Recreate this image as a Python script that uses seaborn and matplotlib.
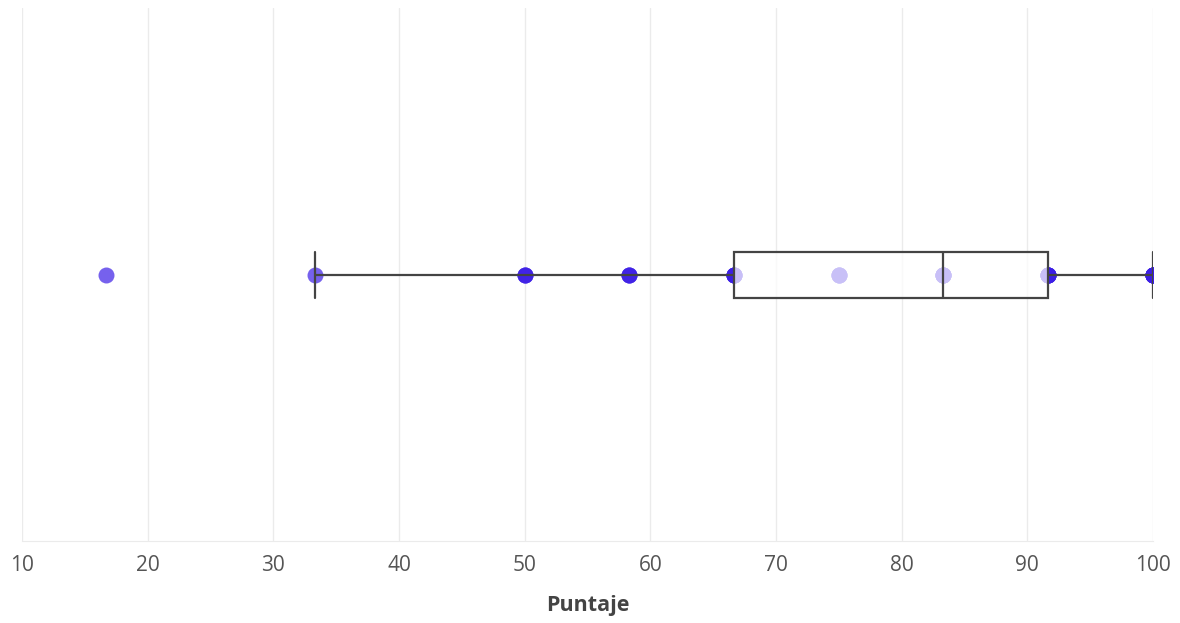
import numpy as np
import pandas as pd
import seaborn as sns
import matplotlib.pyplot as plt

# puntajes posibles y cuantas veces aparece cada uno
puntajes = [16.67, 33.33, 50.0, 58.33, 66.67, 75.0, 83.33, 91.67, 100.0]
conteos = [1, 1, 3, 3, 5, 4, 6, 6, 8]
ticks = [10, 20, 30, 40, 50, 60, 70, 80, 90, 100]

df = pd.DataFrame({'Puntaje': np.repeat(puntajes, conteos)})

sns.set_style("white")
plt.rcParams['font.family'] = ['Open Sans', 'DejaVu Sans']

fig = plt.figure(figsize=(11.8, 6.23), dpi=100)
ax = fig.add_axes([0.0186, 0.1316, 0.9585, 0.855])

ancho = 0.086
# puntos primero, la caja semitransparente encima
sns.stripplot(x='Puntaje', data=df, jitter=False, color='#3c1ee6', alpha=0.7,
              size=11.5, linewidth=0, zorder=2, ax=ax)
sns.boxplot(x='Puntaje', data=df, width=ancho, showfliers=False,
            linecolor='#444444', linewidth=1.6,
            boxprops=dict(facecolor=(1, 1, 1, 0.72), zorder=3), ax=ax)

# los topes de los bigotes ocupan todo el alto de la caja
extremos = [min(puntajes[1:]), max(puntajes)]
for ln in ax.lines:
    ln.set_zorder(4)
    xd = np.asarray(ln.get_xdata(), dtype=float)
    if len(xd) == 2 and xd[0] == xd[1] and np.any(np.isclose(xd[0], extremos)):
        ln.set_ydata([-ancho / 2, ancho / 2])

ax.set_xlim(10, 100)
ax.set_ylim(0.5, -0.5)
ax.set_xticks(ticks)
ax.set_yticks([])
ax.grid(axis='x', color='#ebebeb', linewidth=1)
ax.set_axisbelow(True)
for s in ['top', 'right', 'left']:
    ax.spines[s].set_visible(False)
ax.spines['bottom'].set_color('#ebebeb')
ax.tick_params(axis='x', length=6, color='#ebebeb', labelsize=15, labelcolor='#555555', pad=4)
ax.set_xlabel('Puntaje', fontsize=15.5, fontweight='bold', color='#444444', labelpad=14)
ax.set_ylabel('')

plt.savefig('out.png', dpi=100)
